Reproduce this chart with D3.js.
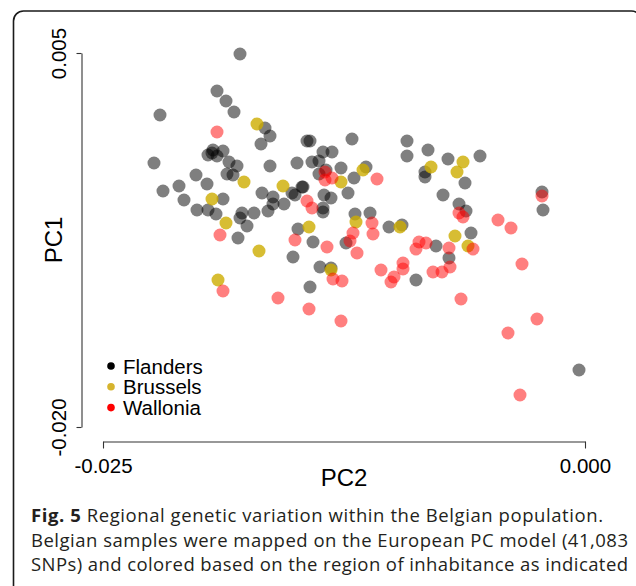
<!DOCTYPE html>
<html>
<head>
<meta charset="utf-8">
<script src="https://cdn.jsdelivr.net/npm/d3@7"></script>
<style>
  body { margin: 0; background: #fff; }
  svg text { font-family: "Liberation Sans", Arial, sans-serif; }
  .caption text { font-family: "Open Sans", sans-serif; }
</style>
</head>
<body>
<div id="chart"></div>
<script>
// PC2 (x), PC1 (y) coordinates, one array per region
var flanders = [
  [-0.017894, 0.004933], [-0.019087, 0.002460], [-0.018620, 0.001791], [-0.018205, 0.001056],
  [-0.022043, 0.000856], [-0.016597, -0.000013], [-0.016338, -0.000548], [-0.016805, -0.001083],
  [-0.019295, -0.001484], [-0.018776, -0.001551], [-0.019554, -0.001818], [-0.019087, -0.001885],
  [-0.019346, -0.001684], [-0.022355, -0.002353], [-0.018465, -0.002286], [-0.018050, -0.002553],
  [-0.016338, -0.002553], [-0.014938, -0.002353], [-0.020176, -0.003155], [-0.018568, -0.003088],
  [-0.018257, -0.003155], [-0.019606, -0.003757], [-0.021058, -0.003890], [-0.021888, -0.004225],
  [-0.016753, -0.004358], [-0.015197, -0.004358], [-0.014678, -0.003957], [-0.016183, -0.004626],
  [-0.016183, -0.005094], [-0.015612, -0.005094], [-0.016442, -0.005561], [-0.017168, -0.005695],
  [-0.017790, -0.005695], [-0.017894, -0.006029], [-0.017531, -0.006564], [-0.018776, -0.004759],
  [-0.020799, -0.004826], [-0.020124, -0.005495], [-0.019554, -0.005495], [-0.019139, -0.005762],
  [-0.017998, -0.007366], [-0.014886, -0.006765], [-0.014108, -0.007634], [-0.015145, -0.008636],
  [-0.014419, -0.000882], [-0.014263, -0.000882], [-0.012085, -0.000749], [-0.009232, -0.000882],
  [-0.009232, -0.001885], [-0.008143, -0.001484], [-0.007106, -0.002086], [-0.005446, -0.001885],
  [-0.013589, -0.001618], [-0.013122, -0.001618], [-0.014160, -0.002286], [-0.013797, -0.002219],
  [-0.013797, -0.003088], [-0.013434, -0.002821], [-0.012656, -0.002687], [-0.011359, -0.002620],
  [-0.011981, -0.003356], [-0.012292, -0.004358], [-0.014626, -0.003957], [-0.015041, -0.004492],
  [-0.013537, -0.004492], [-0.013174, -0.004692], [-0.013589, -0.005361], [-0.013589, -0.005628],
  [-0.011929, -0.005762], [-0.011151, -0.005695], [-0.010166, -0.006631], [-0.009492, -0.006497],
  [-0.008299, -0.002955], [-0.008299, -0.003289], [-0.007365, -0.004492], [-0.006224, -0.003690],
  [-0.006535, -0.005094], [-0.006172, -0.005561], [-0.002230, -0.004291], [-0.002178, -0.005495],
  [-0.005913, -0.007032], [-0.012396, -0.007701], [-0.013745, -0.009305], [-0.014263, -0.010642],
  [-0.008766, -0.010174], [-0.007728, -0.007901], [-0.007054, -0.008703], [-0.000311, -0.016190],
  [-0.013174, -0.009372]
];

var brussels = [
  [-0.017012, 0.000254], [-0.017687, -0.003623], [-0.015664, -0.003890], [-0.019346, -0.004759],
  [-0.018620, -0.006364], [-0.014315, -0.006631], [-0.016909, -0.008235], [-0.019035, -0.010174],
  [-0.011514, -0.002821], [-0.012656, -0.003623], [-0.011878, -0.006297], [-0.009595, -0.006631],
  [-0.007987, -0.002620], [-0.006328, -0.002286], [-0.006639, -0.002955], [-0.006743, -0.007233],
  [-0.006068, -0.007901], [-0.013174, -0.009505]
];

var wallonia = [
  [-0.019087, -0.000281], [-0.018931, -0.007166], [-0.015041, -0.007500], [-0.018776, -0.010909],
  [-0.015923, -0.011377], [-0.010788, -0.003422], [-0.013485, -0.002955], [-0.013485, -0.003489],
  [-0.013122, -0.003356], [-0.014419, -0.004893], [-0.014160, -0.005361], [-0.011048, -0.006364],
  [-0.010996, -0.007099], [-0.012033, -0.007032], [-0.012189, -0.007567], [-0.011826, -0.008369],
  [-0.013382, -0.007968], [-0.013070, -0.010107], [-0.012604, -0.010241], [-0.014315, -0.012112],
  [-0.012656, -0.012914], [-0.010581, -0.009505], [-0.010062, -0.010307], [-0.009907, -0.009973],
  [-0.009440, -0.009037], [-0.009440, -0.009438], [-0.007884, -0.009639], [-0.007417, -0.009639],
  [-0.007002, -0.009305], [-0.008610, -0.007634], [-0.008247, -0.007701], [-0.008766, -0.008102],
  [-0.007054, -0.008035], [-0.005809, -0.008102], [-0.006535, -0.005695], [-0.006328, -0.005963],
  [-0.004512, -0.006163], [-0.003838, -0.006698], [-0.002230, -0.004559], [-0.003268, -0.009104],
  [-0.006432, -0.011444], [-0.002490, -0.012781], [-0.003994, -0.013717], [-0.003371, -0.017861]
];

var regions = ["Flanders", "Brussels", "Wallonia"];
var xTicks = [-0.025, 0.000];
var yTicks = [-0.020, 0.005];
var captionLines = [
  ["Fig. 5", " Regional genetic variation within the Belgian population."],
  ["", "Belgian samples were mapped on the European PC model (41,083"],
  ["", "SNPs) and colored based on the region of inhabitance as indicated"]
];
var captionWidths = [572, 597, 597];

var w = 636, h = 586;

var svg = d3.select("#chart")
  .append("svg")
  .attr("width", w)
  .attr("height", h);

// rounded figure frame (runs off right and bottom)
svg.append("rect")
  .attr("x", 13.5)
  .attr("y", 11)
  .attr("width", 628)
  .attr("height", 600)
  .attr("rx", 10)
  .style("fill", "none")
  .style("stroke", "#1a1a1a")
  .style("stroke-width", 1.6);

var x = d3.scaleLinear().domain([-0.025, 0]).range([103, 585]);
var y = d3.scaleLinear().domain([-0.020, 0.005]).range([427, 53]);

var color = d3.scaleOrdinal()
  .domain(regions)
  .range(["#000000", "#CDAD00", "#FF0000"]);
var alpha = {Flanders: 0.5, Brussels: 0.8, Wallonia: 0.5};

var fmt = function(d) { return d.toFixed(3); };

// x axis
var gx = svg.append("g")
  .attr("transform", "translate(0,441.5)")
  .call(d3.axisBottom(x).tickValues(xTicks).tickFormat(fmt).tickSize(7).tickSizeOuter(0).tickPadding(10));

// y axis
var gy = svg.append("g")
  .attr("transform", "translate(81.5,0)")
  .call(d3.axisLeft(y).tickValues(yTicks).tickFormat(fmt).tickSize(5).tickSizeOuter(0));

[gx, gy].forEach(function(g) {
  g.selectAll("path, line").style("stroke", "#333").style("stroke-width", 1.1);
  g.selectAll("text")
    .style("font-family", "'Liberation Sans', Arial, sans-serif")
    .style("font-size", "20.5px")
    .style("fill", "#000");
});

gy.selectAll(".tick text")
  .attr("transform", "rotate(-90)")
  .attr("x", 0)
  .attr("y", -15.5)
  .attr("dy", 0)
  .attr("text-anchor", "middle");

// axis titles
svg.append("text")
  .attr("x", 344)
  .attr("y", 486)
  .attr("text-anchor", "middle")
  .style("font-size", "24px")
  .text("PC2");

svg.append("text")
  .attr("transform", "translate(62,240) rotate(-90)")
  .attr("text-anchor", "middle")
  .style("font-size", "24px")
  .text("PC1");

// points
var data = [];
flanders.forEach(function(d) { data.push({region: "Flanders", pc2: d[0], pc1: d[1]}); });
brussels.forEach(function(d) { data.push({region: "Brussels", pc2: d[0], pc1: d[1]}); });
wallonia.forEach(function(d) { data.push({region: "Wallonia", pc2: d[0], pc1: d[1]}); });

svg.append("g")
  .selectAll("circle")
  .data(data)
  .enter()
  .append("circle")
  .attr("cx", function(d) { return x(d.pc2); })
  .attr("cy", function(d) { return y(d.pc1); })
  .attr("r", 6.5)
  .style("fill", function(d) { return color(d.region); })
  .style("fill-opacity", function(d) { return alpha[d.region]; });

// legend
var lgd = svg.append("g")
  .selectAll("g")
  .data(regions)
  .enter()
  .append("g")
  .attr("transform", function(d, i) { return "translate(111," + (366 + i * 20.8) + ")"; });

lgd.append("circle")
  .attr("r", 3.8)
  .style("fill", function(d) { return d == "Brussels" ? "#D6B42E" : color(d); });

lgd.append("text")
  .attr("x", 12)
  .attr("y", 7.5)
  .style("font-size", "20.5px")
  .text(function(d) { return d; });

// caption
var cap = svg.append("g").attr("class", "caption");
cap.selectAll("text")
  .data(captionLines)
  .enter()
  .append("text")
  .attr("x", 31)
  .attr("y", function(d, i) { return 522 + i * 24.5; })
  .attr("textLength", function(d, i) { return captionWidths[i]; })
  .attr("lengthAdjust", "spacing")
  .style("font-size", "18.5px")
  .style("fill", "#231f20")
  .each(function(d) {
    var t = d3.select(this);
    if (d[0]) t.append("tspan").style("font-weight", "bold").text(d[0]);
    t.append("tspan").text(d[1]);
  });
</script>
</body>
</html>
